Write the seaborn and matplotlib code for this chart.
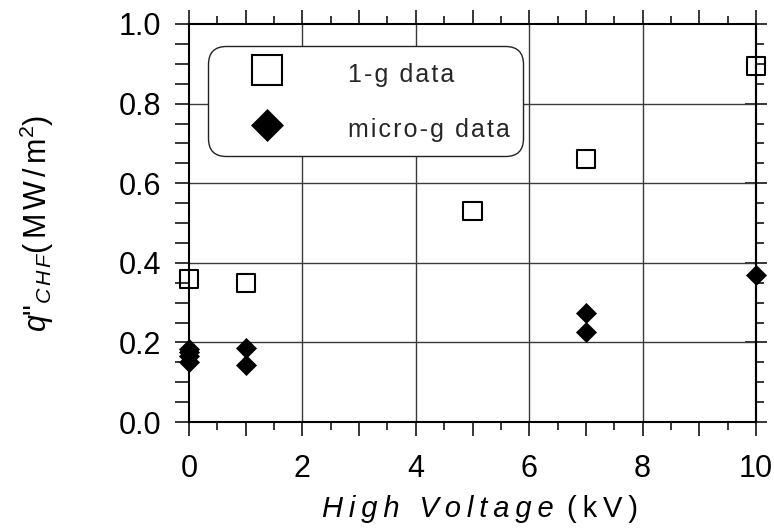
import numpy as np
import pandas as pd
import matplotlib
matplotlib.use("Agg")
import matplotlib.pyplot as plt
import seaborn as sns
from matplotlib.ticker import MultipleLocator, FuncFormatter
from matplotlib.lines import Line2D
from matplotlib.offsetbox import TextArea, HPacker, AnchoredOffsetbox

# Critical heat flux versus applied high voltage
one_g_kv = [0, 1, 5, 7, 10]
one_g_chf = [0.36, 0.35, 0.53, 0.66, 0.895]

micro_g_kv = [0, 0, 0, 0, 1, 1, 7, 7, 10]
micro_g_chf = [0.183, 0.175, 0.165, 0.151, 0.185, 0.143, 0.273, 0.226, 0.37]

series_labels = ["1-g data", "micro-g data"]
x_label_italic = "High Voltage"
x_label_unit = "(kV)"

sns.set_style("white")
plt.rcParams["font.family"] = ["Liberation Sans", "DejaVu Sans"]
plt.rcParams["mathtext.fontset"] = "custom"
plt.rcParams["mathtext.rm"] = "Liberation Sans"
plt.rcParams["mathtext.it"] = "Liberation Sans:italic"
plt.rcParams["mathtext.bf"] = "Liberation Sans:bold"


def track(text, gap="\u2009"):
    return gap.join(text)


one_g = pd.DataFrame({"kv": one_g_kv, "chf": one_g_chf})
micro_g = pd.DataFrame({"kv": micro_g_kv, "chf": micro_g_chf})

fig = plt.figure(figsize=(7.74, 5.32), dpi=100)
ax = fig.add_axes([189 / 774, 1 - 422 / 532, (756 - 189) / 774, (422 - 24) / 532])

ax.set_xlim(0, 10)
ax.set_ylim(0, 1.0)

# grid at the labelled positions
for gx in [2, 4, 6, 8]:
    ax.axvline(gx, color="#3a3a3a", lw=1.0, zorder=0.5)
for gy in [0.2, 0.4, 0.6, 0.8]:
    ax.axhline(gy, color="#3a3a3a", lw=1.0, zorder=0.5)

sns.scatterplot(data=one_g, x="kv", y="chf", marker="s", s=169,
                facecolor="none", edgecolor="black", linewidth=1.5,
                clip_on=False, zorder=5, ax=ax, legend=False)
ax.collections[-1].set_facecolor("none")
sns.scatterplot(data=micro_g, x="kv", y="chf", marker="D", s=104,
                color="black", edgecolor="black", linewidth=0.5,
                clip_on=False, zorder=5, ax=ax, legend=False)

# spines
for sp in ax.spines.values():
    sp.set_visible(True)
    sp.set_color("black")
    sp.set_linewidth(1.5)
    sp.set_zorder(6)

# ticks
ax.xaxis.set_major_locator(MultipleLocator(1))
ax.xaxis.set_minor_locator(MultipleLocator(0.5))
ax.yaxis.set_major_locator(MultipleLocator(0.2))
ax.yaxis.set_minor_locator(MultipleLocator(0.05))
ax.xaxis.set_major_formatter(FuncFormatter(
    lambda v, p: f"{v:.0f}" if round(v) % 2 == 0 else ""))
ax.yaxis.set_major_formatter(FuncFormatter(lambda v, p: f"{v:.1f}"))

ax.tick_params(axis="x", which="major", direction="out", length=10, width=1.1,
               bottom=True, top=True, labelsize=22, pad=13, color="black")
ax.tick_params(axis="x", which="minor", direction="out", length=5.5, width=1.1,
               bottom=True, top=True, color="black")
ax.tick_params(axis="y", which="major", direction="out", length=10, width=1.1,
               left=True, right=False, labelsize=22, pad=10, color="black")
ax.tick_params(axis="y", which="minor", direction="out", length=10, width=1.1,
               left=True, right=False, color="black")
for lab in ax.get_xticklabels() + ax.get_yticklabels():
    lab.set_color("black")

# right-hand ticks are shorter than the left-hand ones
sec = ax.secondary_yaxis("right")
sec.yaxis.set_major_locator(MultipleLocator(0.2))
sec.yaxis.set_minor_locator(MultipleLocator(0.05))
sec.tick_params(axis="y", which="major", direction="inout", length=16, width=1.1,
                labelright=False, color="black")
sec.tick_params(axis="y", which="minor", direction="out", length=5.5, width=1.1,
                color="black")
sec.spines["right"].set_linewidth(1.5)

ax.set_xlabel("")
ax.set_ylabel(r'$\mathit{q}$"$_{\mathit{C\,H\,F}}$'
              r'$\mathrm{(\,M\,W\,/\,m}^{2}\mathrm{)}$',
              fontsize=22, color="black")
ax.yaxis.set_label_coords(-0.235, 0.5)

# x-axis title: italic quantity followed by upright unit
part_a = TextArea(track(x_label_italic),
                  textprops=dict(fontsize=21, style="italic", color="black"))
part_b = TextArea(track(x_label_unit),
                  textprops=dict(fontsize=21, color="black"))
xtitle = HPacker(children=[part_a, part_b], align="baseline", pad=0, sep=9)
anch = AnchoredOffsetbox(loc="center", child=xtitle, pad=0, borderpad=0,
                         frameon=False,
                         bbox_to_anchor=(480 / 774, 1 - 509 / 532),
                         bbox_transform=fig.transFigure)
fig.add_artist(anch)

# legend
handles = [
    Line2D([], [], linestyle="none", marker="s", markersize=21.6,
           markerfacecolor="none", markeredgecolor="black", markeredgewidth=1.5),
    Line2D([], [], linestyle="none", marker="D", markersize=16.3,
           markerfacecolor="black", markeredgecolor="black", markeredgewidth=0.5),
]
leg = ax.legend(handles, [track(t, "\u200a") for t in series_labels],
                loc="upper left", bbox_to_anchor=((208 - 189) / 567, (422 - 46) / 398),
                borderaxespad=0, fontsize=18, frameon=True, fancybox=True,
                borderpad=0.52, handlelength=3.68, handleheight=1.4,
                handletextpad=1.4, labelspacing=1.04)
frame = leg.get_frame()
frame.set_edgecolor("#222222")
frame.set_linewidth(1.0)
frame.set_facecolor("white")
frame.set_alpha(1)
frame.set_boxstyle("round", pad=0, rounding_size=0.7)
leg.set_zorder(7)

fig.savefig("out.png", dpi=100)
